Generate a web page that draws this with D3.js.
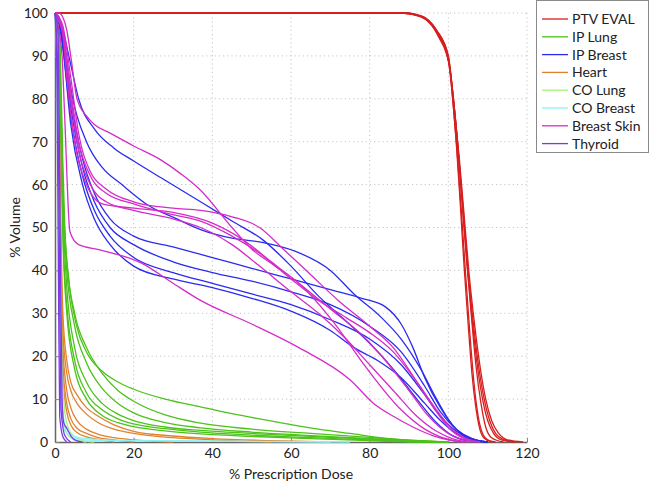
<!DOCTYPE html>
<html>
<head>
<meta charset="utf-8">
<script src="https://cdn.jsdelivr.net/npm/d3@7"></script>
<style>
  body { margin: 0; background: #fff; }
  text { font-family: Lato, "Open Sans", sans-serif; fill: #222; }
</style>
</head>
<body>
<div id="chart"></div>
<script>
// DVH curves: each curve is a list of [% dose, % volume]
const ptvEval = [
  [[0,100],[88,100],[93,99.4],[97,96],[100,90],[101,81],[102,70],[103,56],[104,41],[105,28],[106,16],[107,8],[108,3],[109,1],[111,0]],
  [[0,100],[88,100],[93,99.2],[97,95.5],[100,89],[101.2,79],[102.2,68],[103.3,54],[104.4,39],[105.5,25],[106.5,14],[107.5,6.5],[108.6,2.2],[110,0.5],[112,0]],
  [[0,100],[88,100],[93,99.3],[97,96],[100,90],[101.3,80],[102.4,69],[103.5,56],[104.7,42],[105.8,30],[107,18],[108.3,9],[109.5,3.5],[111,1],[114,0]],
  [[0,100],[89,100],[93.5,99],[97.5,95],[100,89],[101.5,78],[102.6,67],[103.8,54],[105,40],[106.2,29],[107.5,19],[109,10.5],[110.5,5],[112,2],[114,0.6],[117,0]],
  [[0,100],[89,100],[94,98.8],[97.5,94.5],[100.2,88],[101.6,77],[102.8,66],[104,53],[105.3,39],[106.6,28],[108,18],[109.5,10],[111,5],[112.8,2],[115,0.5],[119,0]],
  [[0,100],[88,100],[93,99.1],[97,95.5],[100,89.5],[101.4,79],[102.5,68],[103.6,55],[104.8,41],[106,29],[107.2,19],[108.5,11],[110,5],[111.5,2],[113.5,0.5],[117,0]]
];
const ipLung = [
  [[0,100],[1,98],[1.5,85],[2,65],[2.5,50],[3.5,38],[5.5,27],[8,21],[12,16.5],[16,14],[20,12.3],[28,10],[37,8.2],[45,6.6],[58,4.4],[67,3],[75,2],[85,0.8],[95,0.2],[100,0]],
  [[0,100],[1,97],[1.5,80],[2,60],[3,42],[5,30],[8,22],[12,16],[16,12],[20,9.5],[28,6.3],[37,4.4],[50,3],[65,2],[80,1.1],[90,0.4],[100,0]],
  [[0,100],[1,96],[1.5,78],[2,58],[3,40],[5,27],[8,18.5],[12,12.5],[16,9],[20,6.8],[28,4.5],[37,3.3],[50,2.3],[65,1.5],[80,0.8],[95,0.2],[100,0]],
  [[0,100],[1,95],[1.5,75],[2,55],[3,36],[5,22],[8,14],[12,9],[16,6.5],[20,5],[28,3.5],[37,2.7],[50,2],[65,1.3],[80,0.7],[95,0.1],[100,0]],
  [[0,100],[1,94],[1.5,72],[2,50],[3,32],[5,19],[8,11.5],[12,7.5],[16,5.4],[20,4.2],[28,3.1],[37,2.3],[50,1.6],[65,1],[80,0.5],[95,0],[100,0]],
  [[0,100],[1,93],[1.5,70],[2,48],[3,30],[5,17],[8,10],[12,6.2],[16,4.5],[20,3.6],[28,2.6],[37,1.9],[50,1.3],[65,0.8],[80,0.3],[95,0],[100,0]]
];
const ipBreast = [
  [[0,100],[1,99],[2,96],[4,88],[6,80],[10,73],[15,68.5],[20,65.5],[28,61],[37,56],[45,51.5],[53,47],[60,41],[67,34],[73,29],[80,23],[86,17],[92,10],[97,4.5],[101,1.5],[105,0.3],[110,0]],
  [[0,100],[1,99],[2,95],[4.3,81],[8,70],[12,64],[17,60],[24,55],[31,52],[37,49.5],[45,47.5],[53,46.5],[61,44.5],[70,40],[76,34.5],[83,29],[88,24],[93,17],[97,10],[101,4],[105,1],[110,0]],
  [[0,100],[1,98],[2,94],[4,80],[7,66],[10,58],[14,52],[20,48],[30,45.5],[40,43],[50,40.5],[60,38],[70,35.5],[78,33.5],[84,31.5],[88,27.5],[91,22],[94,15],[98,8],[102,3],[106,0.8],[110,0]],
  [[0,100],[1,98],[2,93],[4,78],[7,64],[10,56],[14,50],[20,46],[30,42],[40,39.5],[50,37.5],[60,35],[70,32],[80,27],[88,21],[94,13],[98,7],[102,3],[106,0.8],[110,0]],
  [[0,100],[1,98],[2,92],[4,76],[7,62],[10,54],[14,48],[20,43],[30,39.5],[40,37],[50,34.5],[60,32],[70,28.5],[80,24],[88,18],[94,11],[98,6],[102,2.5],[106,0.6],[110,0]],
  [[0,100],[1,98],[2,92],[4,74],[7,60],[10,52],[14,46],[20,41],[30,38],[40,36],[50,33.5],[60,30.5],[70,26],[76,22],[82,19],[88,15],[94,9],[98,5],[102,2],[106,0.5],[110,0]]
];
const heart = [
  [[0,100],[0.5,98],[1,80],[1.5,50],[2,30],[3,19],[4,14],[5.6,11],[8,8],[11,6],[15,4],[20,2.5],[30,1.4],[40,0.8],[55,0.3],[70,0]],
  [[0,100],[0.5,97],[1,75],[1.5,45],[2,26],[3,16],[4,12],[5.6,9],[8,6.5],[11,4.5],[15,3],[20,2],[30,1],[40,0.5],[55,0]],
  [[0,100],[0.5,96],[1,70],[1.5,40],[2,22],[3,12],[4,8],[5.6,5],[8,3],[11,1.8],[15,1],[20,0.5],[30,0]],
  [[0,100],[0.5,95],[1,65],[1.5,35],[2,18],[3,9],[4,5.5],[5.6,3.2],[8,2],[11,1],[15,0.5],[20,0]],
  [[0,100],[0.5,94],[1,60],[1.5,30],[2,15],[3,7],[4,4],[5.6,2.2],[8,1.2],[11,0.6],[15,0]]
];
const coLung = [
  [[0,100],[0.5,90],[1,50],[1.5,15],[2,6],[3,2],[4,1],[6,0.3],[8,0]],
  [[0,100],[0.6,92],[1.2,55],[1.8,18],[2.5,7],[3.5,3],[5,1.2],[7,0.4],[10,0]]
];
const coBreast = [
  [[0,100],[0.5,85],[1,40],[1.5,10],[2,4],[3,2],[5,0.8],[10,0.4],[20,0.3],[40,0.2],[60,0.1],[75,0]],
  [[0,100],[0.6,88],[1.2,45],[1.7,12],[2.3,5],[3.5,2.2],[6,1],[12,0.5],[25,0.3],[50,0.1],[70,0]]
];
const breastSkin = [
  [[0,100],[1,100],[2,99],[3,96],[4,90],[5.6,80],[8,76],[10,74],[14,72],[20,69],[27,65.7],[32,62.5],[37,58.7],[45,50],[50,45],[56,41],[62,37],[71,27.7],[79,17.5],[88,7.5],[94,3],[98,1.2],[103,0]],
  [[0,100],[1,99],[2,97],[4,85],[6,72],[9,63],[13,59],[20,56],[30,54.5],[37,54],[45,52.5],[52,50],[58,45],[65,39],[72,33],[80,27],[86,22],[92,14],[97,7],[101,2.5],[105,0.5],[108,0]],
  [[0,100],[1,99],[2,96],[4,82],[6,70],[9,62],[13,58],[20,55.5],[30,53],[37,51.5],[45,48],[52,44],[60,38],[67,33],[74,29],[80,25.5],[86,21],[92,14],[97,7.5],[101,3],[105,0.7],[108,0]],
  [[0,100],[1,99],[2,95],[4,80],[6,68],[9,60],[13,56],[20,54],[30,52],[37,50],[45,46],[52,41],[60,35],[67,30],[74,24],[80,18],[86,12],[92,6],[97,2.5],[101,0.8],[105,0]],
  [[0,100],[1,98],[2,95],[3,85],[5,70],[8,60],[12,55.5],[20,54.5],[30,53.5],[40,51],[48,47],[55,42],[62,37],[70,31],[78,25],[84,19],[90,12],[95,6],[100,2],[104,0.5],[107,0]],
  [[0,100],[1,96],[1.8,90],[2.5,75],[3.8,49],[6,46],[11.4,44.8],[22,41.7],[30,37],[37,33],[50,27.5],[62,22],[75,14.5],[81,9],[86,6],[91,3.5],[96,1.5],[100,0.5],[104,0]]
];
const thyroid = [
  [[0,100],[0.8,95],[1.3,50],[1.8,10],[2.2,4.5],[3,3.2],[4,1.5],[5,0.5],[7,0]],
  [[0,100],[0.5,85],[0.9,35],[1.2,6],[2,1.2],[3,0]],
  [[0,100],[0.6,90],[1.1,45],[1.5,8],[2.5,1.5],[4,0]]
];

const seriesNames = ['PTV EVAL', 'IP Lung', 'IP Breast', 'Heart', 'CO Lung', 'CO Breast', 'Breast Skin', 'Thyroid'];
const seriesCurves = [ptvEval, ipLung, ipBreast, heart, coLung, coBreast, breastSkin, thyroid];
const seriesColors = ['#d61f1f', '#4cc21a', '#2b2bf0', '#e0822e', '#a6f27a', '#8af2f2', '#d42cc8', '#7b3ae6'];
const xTicks = [0, 20, 40, 60, 80, 100, 120];
const yTicks = [0, 10, 20, 30, 40, 50, 60, 70, 80, 90, 100];

const W = 649, H = 486;
const margin = { top: 13, right: 122, bottom: 44, left: 55 };
const width = W - margin.left - margin.right;
const height = H - margin.top - margin.bottom;

const svg = d3.select('#chart').append('svg')
    .attr('width', W)
    .attr('height', H);

const g = svg.append('g')
    .attr('transform', `translate(${margin.left},${margin.top})`);

const x = d3.scaleLinear().domain([0, 120]).range([0, width]);
const y = d3.scaleLinear().domain([0, 100]).range([height, 0]);

// dotted grid
g.append('g')
    .selectAll('line.vg')
    .data(xTicks.slice(1))
    .enter().append('line')
    .attr('x1', d => x(d)).attr('x2', d => x(d))
    .attr('y1', 0).attr('y2', height)
    .attr('stroke', '#c4c4c4')
    .attr('stroke-dasharray', '1.2,3');

g.append('g')
    .selectAll('line.hg')
    .data(yTicks.slice(1))
    .enter().append('line')
    .attr('x1', 0).attr('x2', width)
    .attr('y1', d => y(d)).attr('y2', d => y(d))
    .attr('stroke', '#c4c4c4')
    .attr('stroke-dasharray', '1.2,3');

// axes
const xAxis = g.append('g')
    .attr('transform', `translate(0,${height})`)
    .call(d3.axisBottom(x).tickValues(xTicks).tickSize(-4).tickPadding(6).tickSizeOuter(0));
const yAxis = g.append('g')
    .call(d3.axisLeft(y).tickValues(yTicks).tickSize(-4).tickPadding(7).tickSizeOuter(0));

[xAxis, yAxis].forEach(a => {
    a.select('.domain').attr('stroke', '#666').attr('stroke-width', 1.5);
    a.selectAll('.tick line').attr('stroke', '#888');
    a.selectAll('text').style('font-size', '14px').style('font-family', 'Lato, sans-serif').attr('fill', '#222');
});

// curves
const line = d3.line()
    .x(d => x(d[0]))
    .y(d => y(d[1]))
    .curve(d3.curveMonotoneX);

seriesCurves.forEach((curves, i) => {
    g.append('g')
        .selectAll('path')
        .data(curves)
        .enter().append('path')
        .attr('d', line)
        .attr('fill', 'none')
        .attr('stroke', seriesColors[i])
        .attr('stroke-width', 1.3);
});

// axis labels
svg.append('text')
    .attr('x', margin.left + width / 2)
    .attr('y', 479)
    .attr('text-anchor', 'middle')
    .style('font-size', '14px')
    .text('% Prescription Dose');

svg.append('text')
    .attr('transform', 'rotate(-90)')
    .attr('x', -(margin.top + height / 2))
    .attr('y', 20)
    .attr('text-anchor', 'middle')
    .style('font-size', '14px')
    .text('% Volume');

// legend
const legend = svg.append('g');
legend.append('rect')
    .attr('x', 536.5).attr('y', 0.5)
    .attr('width', 112).attr('height', 152)
    .attr('fill', '#fff')
    .attr('stroke', '#8a8a8a');

seriesNames.forEach((name, i) => {
    const ly = 19 + i * 17.8;
    legend.append('line')
        .attr('x1', 542).attr('x2', 568)
        .attr('y1', ly).attr('y2', ly)
        .attr('stroke', seriesColors[i])
        .attr('stroke-width', 1.3);
    legend.append('text')
        .attr('x', 572)
        .attr('y', ly + 5)
        .style('font-size', '14px')
        .text(name);
});
</script>
</body>
</html>
